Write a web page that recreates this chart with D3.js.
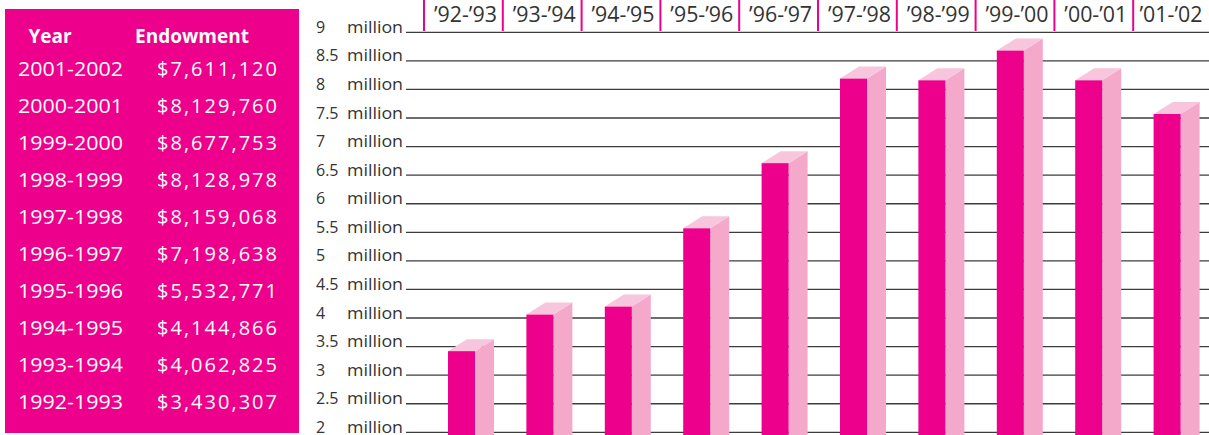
<!DOCTYPE html>
<html lang="en">
<head>
<meta charset="UTF-8">
<script src="https://d3js.org/d3.v7.min.js"></script>
<style>
  body { margin: 0; background: #fff; }
  svg { display: block; font-family: "Open Sans", sans-serif; }
</style>
</head>
<body>
<div class="chart"></div>
<script>
// table on the left (top row first)
var tableYears = ["2001-2002", "2000-2001", "1999-2000", "1998-1999", "1997-1998",
                  "1996-1997", "1995-1996", "1994-1995", "1993-1994", "1992-1993"]
var tableEndowments = [7611120, 8129760, 8677753, 8128978, 8159068,
                       7198638, 5532771, 4144866, 4062825, 3430307]

// bars, oldest first (millions, as drawn)
var barLabels = ["\u201992-\u201993", "\u201993-\u201994", "\u201994-\u201995", "\u201995-\u201996", "\u201996-\u201997",
                 "\u201997-\u201998", "\u201998-\u201999", "\u201999-\u201900", "\u201900-\u201901", "\u201901-\u201902"]
var barValues = [3.42, 4.06, 4.20, 5.57, 6.71, 8.19, 8.16, 8.68, 8.16, 7.57]

var yTicks = [2, 2.5, 3, 3.5, 4, 4.5, 5, 5.5, 6, 6.5, 7, 7.5, 8, 8.5, 9]

var width = 1209, height = 435
var pink = "#ec008c", sidePink = "#f4a9cb", topPink = "#f7c6dd"

var svg = d3.select(".chart").append("svg")
    .attr("width", width)
    .attr("height", height)

// ---- table ----
svg.append("rect")
    .attr("x", 5).attr("y", 9)
    .attr("width", 294).attr("height", 424)
    .attr("fill", pink)

svg.append("text").attr("x", 50).attr("y", 43)
    .attr("text-anchor", "middle").attr("fill", "#fff")
    .style("font-size", "19px").style("font-weight", "bold")
    .text("Year")
svg.append("text").attr("x", 192).attr("y", 43)
    .attr("text-anchor", "middle").attr("fill", "#fff")
    .style("font-size", "19px").style("font-weight", "bold")
    .text("Endowment")

var rowY = d3.scaleBand().domain(tableYears).range([57.5, 428]) // step ~37
var money = d3.format("$,")

var rows = svg.selectAll(".row").data(tableYears).enter().append("g")
    .attr("transform", d => "translate(0," + (rowY(d) + 18.5) + ")")
rows.append("text")
    .attr("x", 18).attr("fill", "#fff")
    .attr("textLength", 105).attr("lengthAdjust", "spacingAndGlyphs")
    .style("font-size", "20px")
    .text(d => d)
rows.append("text")
    .attr("x", 157).attr("fill", "#fff")
    .attr("textLength", 120).attr("lengthAdjust", "spacing")
    .style("font-size", "20px")
    .text((d, i) => money(tableEndowments[i]))

// ---- chart ----
var y = d3.scaleLinear().domain([2, 9]).range([432.3, 32.3])

var grid = svg.append("g")
grid.selectAll("line").data(yTicks).enter().append("line")
    .attr("x1", 406).attr("x2", width)
    .attr("y1", d => y(d)).attr("y2", d => y(d))
    .attr("stroke", "#3c3c3c").attr("stroke-width", 1.3)

var ticks = svg.append("g").selectAll("g").data(yTicks).enter().append("g")
    .attr("transform", d => "translate(0," + (y(d) + 0.5) + ")")
    .style("font-size", "16px").attr("fill", "#333")
ticks.append("text").attr("x", 316).text(d => d)
ticks.append("text").attr("x", 347)
    .attr("textLength", 56).attr("lengthAdjust", "spacingAndGlyphs")
    .text("million")

// header columns
var col = d3.scaleBand().domain(barLabels).range([424, 424 + 78.8 * 10])
svg.append("g").selectAll("line").data(barLabels).enter().append("line")
    .attr("x1", d => col(d)).attr("x2", d => col(d))
    .attr("y1", 0).attr("y2", 31)
    .attr("stroke", pink).attr("stroke-width", 2)
svg.append("g").selectAll("text").data(barLabels).enter().append("text")
    .attr("x", d => Math.min(col(d) + col.bandwidth() / 2 + 2, 1171))
    .attr("y", 22)
    .attr("text-anchor", "middle").attr("fill", "#333")
    .attr("textLength", 63).attr("lengthAdjust", "spacingAndGlyphs")
    .style("font-size", "21px")
    .text(d => d)

// 3d bars
var x = d3.scaleBand().domain(barLabels).range([448, 448 + 78.4 * 10])
var fw = 27, dx = 19, dy = 12, base = height

var bars = svg.append("g").selectAll("g").data(barLabels).enter().append("g")
bars.append("path")
    .attr("fill", sidePink)
    .attr("d", (d, i) => {
        var x0 = x(d) + fw, t = y(barValues[i])
        return "M" + x0 + "," + t + "L" + (x0 + dx) + "," + (t - dy) +
            "L" + (x0 + dx) + "," + base + "L" + x0 + "," + base + "Z"
    })
bars.append("path")
    .attr("fill", topPink)
    .attr("d", (d, i) => {
        var x0 = x(d), t = y(barValues[i])
        return "M" + x0 + "," + t + "L" + (x0 + dx) + "," + (t - dy) +
            "L" + (x0 + fw + dx) + "," + (t - dy) + "L" + (x0 + fw) + "," + t + "Z"
    })
bars.append("rect")
    .attr("x", d => x(d))
    .attr("y", (d, i) => y(barValues[i]))
    .attr("width", fw)
    .attr("height", (d, i) => base - y(barValues[i]))
    .attr("fill", pink)
</script>
</body>
</html>
